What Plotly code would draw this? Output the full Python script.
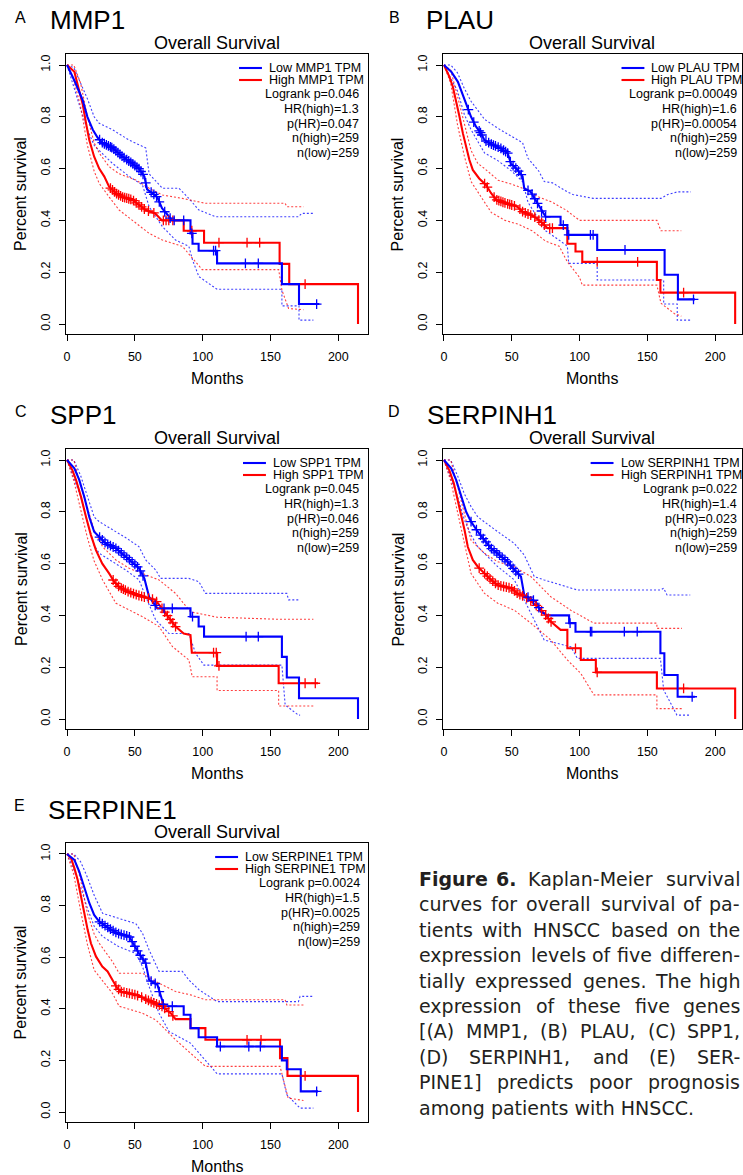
import numpy as np
import plotly.graph_objects as go

W, H = 743, 1175

# ---------------- shared axis / text values ----------------
month_ticks = [0, 50, 100, 150, 200]
surv_ticks = [0.0, 0.2, 0.4, 0.6, 0.8, 1.0]
surv_tick_labels = ["0.0", "0.2", "0.4", "0.6", "0.8", "1.0"]

genes = ["MMP1", "PLAU", "SPP1", "SERPINH1", "SERPINE1"]
panel_letters = ["A", "B", "C", "D", "E"]
logrank_p = ["0.046", "0.00049", "0.045", "0.022", "0.0024"]
hr_high = ["1.3", "1.6", "1.3", "1.4", "1.5"]
p_hr = ["0.047", "0.00054", "0.046", "0.023", "0.0025"]
n_high = [259, 259, 259, 259, 259]
n_low = [259, 259, 259, 259, 259]

# ---------------- (A) MMP1 ----------------
mmp1_low_t = [0, 5.4, 11.5, 15, 19, 22.5, 26, 33.5, 41, 48, 53, 57, 59, 63, 66.5, 70, 74, 77.6, 91, 91, 92.5, 92.5, 97, 97, 110.6, 110.6, 158.4, 158.4, 171, 171, 186]
mmp1_low_s = [1, .94, .865, .80, .75, .72, .70, .68, .646, .62, .60, .57, .52, .505, .49, .447, .42, .40, .40, .35, .35, .31, .31, .283, .283, .234, .234, .154, .154, .077, .077]
mmp1_high_t = [0, 5.4, 9, 11.5, 14, 16.4, 20, 23.7, 27.4, 31, 36, 41, 48, 53, 58, 65, 70, 86, 86, 101, 101, 156.7, 156.7, 163.8, 163.8, 214.5, 214.5]
mmp1_high_s = [1, .974, .90, .85, .775, .71, .646, .60, .57, .53, .505, .49, .48, .46, .44, .427, .40, .40, .36, .36, .314, .314, .232, .232, .154, .154, 0]
mmp1_low_censor = [24, 26, 27.5, 29, 30.5, 32, 33, 34.5, 36, 37.5, 39, 40.5, 42, 44, 45.5, 47, 48.5, 50, 51.5, 53, 54.5, 56, 58, 62, 64, 66, 68, 72, 76, 79, 86, 92, 108, 109.5, 131.5, 141, 184]
mmp1_high_censor = [32, 33.5, 35, 36.5, 38, 39.5, 41, 42.5, 44, 45.5, 47, 49, 51, 53, 55, 57, 60, 64, 71, 73, 75, 78, 92, 112, 132.7, 142, 175.5]
mmp1_low_upper_t = [0, 5, 10, 15, 20, 23.7, 33.5, 45.8, 58, 60.5, 70.3, 82.5, 89.8, 97.2, 109.4, 170.6, 173, 181.6]
mmp1_low_upper_s = [1, .99, .93, .87, .80, .775, .75, .71, .68, .58, .524, .524, .485, .44, .414, .414, .427, .427]
mmp1_low_lower_t = [0, 5, 10, 15, 20, 23.7, 33.5, 45.8, 55.6, 60.5, 70.3, 80, 89.8, 92.5, 97.2, 110.6, 158.4, 158.4, 171, 171, 181.6]
mmp1_low_lower_s = [1, .91, .83, .75, .69, .67, .62, .57, .537, .453, .376, .324, .30, .247, .183, .134, .134, .07, .07, .015, .015]
mmp1_high_upper_t = [0, 5, 10, 15, 20, 23.7, 31.1, 38.4, 50.7, 60.5, 70.3, 85, 102, 160.8, 162, 174.3]
mmp1_high_upper_s = [1, 1, .93, .80, .70, .66, .607, .58, .556, .524, .498, .485, .466, .466, .453, .453]
mmp1_high_lower_t = [0, 5, 10, 15, 20, 23.7, 31.1, 38.4, 50.7, 60.5, 70.3, 85, 99.6, 156, 158.4, 163.3, 174.3]
mmp1_high_lower_s = [1, .94, .84, .69, .59, .543, .49, .44, .39, .35, .324, .30, .21, .21, .131, .06, .055]

# ---------------- (B) PLAU ----------------
plau_low_t = [0, 5.4, 10.3, 12.7, 16.4, 20, 23.7, 27.4, 29.9, 34.8, 42, 47, 49.4, 54.3, 58, 59.2, 64, 69, 71.5, 75, 86, 86, 91, 91, 113, 113, 162.7, 162.7, 172.5, 172.5, 185]
plau_low_s = [1, .974, .935, .90, .85, .80, .762, .736, .71, .695, .678, .66, .62, .595, .57, .524, .51, .466, .44, .414, .414, .382, .382, .344, .344, .286, .286, .19, .19, .095, .095]
plau_high_t = [0, 4, 6.6, 9, 11.5, 14, 16.4, 18.8, 21.3, 26, 31, 34.8, 38.5, 44.6, 54, 58, 66.6, 71.5, 76.4, 91, 91, 97, 97, 102, 102, 157, 157, 159.6, 159.6, 214.7, 214.7]
plau_high_s = [1, .955, .916, .865, .80, .736, .685, .633, .595, .562, .537, .505, .48, .468, .453, .434, .414, .395, .37, .37, .31, .31, .28, .28, .24, .24, .17, .17, .121, .121, 0]
plau_low_censor = [18, 22, 26, 27, 28, 31, 33, 35, 36.5, 38, 40, 42, 44, 45.5, 47, 49, 51, 53, 55, 57, 62, 65, 67, 69, 72, 75, 88, 92, 108, 110, 133.5, 184]
plau_high_censor = [30, 32, 37, 39, 40.5, 42, 43.5, 45, 47, 48.5, 50, 52, 56, 58, 60, 62, 64, 67, 70, 72, 74, 78, 80, 113, 142.8, 176.7]
plau_low_upper_t = [0, 5, 10, 15, 20, 30, 40, 50, 58, 62, 70, 74, 80, 91, 95, 110, 160, 165, 172, 182]
plau_low_upper_s = [1, 1, .97, .91, .86, .79, .755, .725, .70, .64, .59, .55, .545, .51, .50, .485, .485, .50, .51, .51]
plau_low_lower_t = [0, 5, 10, 15, 20, 30, 40, 50, 58, 62, 70, 75, 86, 91, 92, 113, 113, 162, 162, 172, 172, 182.8]
plau_low_lower_s = [1, .95, .90, .81, .75, .66, .63, .59, .55, .47, .40, .36, .32, .30, .234, .234, .17, .17, .077, .077, .015, .015]
plau_high_upper_t = [0, 5, 10, 15, 20, 25, 30, 40, 50, 60, 70, 80, 90, 100, 157, 160, 175]
plau_high_upper_s = [1, .98, .88, .77, .67, .62, .60, .555, .54, .52, .49, .47, .44, .40, .40, .36, .36]
plau_high_lower_t = [0, 5, 10, 15, 20, 25, 35, 45, 55, 65, 75, 85, 91, 100, 102, 157, 160, 170, 175]
plau_high_lower_s = [1, .93, .77, .65, .55, .51, .43, .40, .385, .36, .32, .30, .24, .18, .15, .15, .08, .04, .03]

# ---------------- (C) SPP1 ----------------
spp1_low_t = [0, 5.4, 9, 12.7, 16.4, 20, 23.7, 28.6, 36, 42, 48, 53, 57, 59, 60.5, 66.6, 91, 91, 97, 97, 101, 101, 158.4, 158.4, 162, 162, 171, 171, 214.5, 214.5]
spp1_low_s = [1, .968, .923, .858, .78, .723, .704, .678, .659, .633, .607, .582, .543, .498, .472, .427, .427, .395, .395, .357, .357, .318, .318, .24, .24, .16, .16, .08, .08, 0]
spp1_high_t = [0, 4, 6.6, 10.3, 14, 17.6, 21.3, 26, 31, 34.8, 38.4, 45.8, 55.6, 65, 69, 72.7, 76.4, 80, 86, 91, 92, 110.6, 110.6, 156, 156, 185]
spp1_high_s = [1, .96, .923, .858, .78, .71, .652, .60, .562, .53, .51, .49, .472, .46, .434, .408, .382, .357, .33, .324, .256, .256, .205, .205, .138, .138]
spp1_low_censor = [24, 26, 28, 30, 32, 34, 36, 38, 40, 42, 44, 46, 48, 50, 52, 54, 56, 65, 71.5, 77.6, 92.5, 132, 141]
spp1_high_censor = [34, 36, 38, 40, 41.5, 43, 45, 47, 49, 51, 53, 55, 57, 60, 63, 66, 70, 72, 74, 76, 78, 80, 108, 110, 112, 175.5, 183]
spp1_low_upper_t = [0, 5, 10, 15, 20, 23.7, 43.3, 53.1, 58, 65.4, 69, 89.8, 97.2, 102, 162, 163.3, 171.8]
spp1_low_upper_s = [1, 1, .94, .86, .78, .762, .70, .665, .614, .575, .543, .543, .53, .485, .485, .46, .46]
spp1_low_lower_t = [0, 5, 10, 15, 20, 23.7, 43.3, 53.1, 58, 65.4, 75.2, 89.8, 94.7, 100.9, 158.4, 160.8, 170.6, 171.8]
spp1_low_lower_s = [1, .93, .86, .76, .67, .64, .575, .537, .472, .382, .33, .33, .254, .208, .208, .054, .015, .015]
spp1_high_upper_t = [0, 5, 10, 15, 20, 26.2, 36, 45.8, 55.6, 67.8, 80, 91, 110.6, 156, 181.6]
spp1_high_upper_s = [1, 1, .90, .81, .73, .665, .614, .582, .562, .537, .485, .414, .393, .385, .385]
spp1_high_lower_t = [0, 5, 10, 15, 20, 26.2, 36, 45.8, 55.6, 67.8, 77.6, 89.8, 92.3, 110.6, 110.6, 156, 156, 181.6]
spp1_high_lower_s = [1, .92, .81, .70, .61, .537, .447, .42, .395, .357, .28, .228, .163, .163, .11, .11, .05, .05]

# ---------------- (D) SERPINH1 ----------------
serpinh1_low_t = [0, 5.4, 9, 12.7, 16.4, 20, 25, 30, 34.8, 40.9, 47, 52, 56.8, 59.2, 67.8, 71.5, 76.4, 92.3, 92.3, 97, 97, 159.6, 159.6, 162.5, 162.5, 172.3, 172.3, 185]
serpinh1_low_s = [1, .968, .923, .865, .80, .762, .723, .69, .659, .633, .607, .575, .55, .479, .453, .414, .40, .40, .37, .37, .337, .337, .254, .254, .17, .17, .086, .086]
serpinh1_high_t = [0, 4, 7.3, 10.3, 12.7, 15.2, 17.6, 21.3, 25, 29.9, 34.8, 39.7, 49.4, 54.3, 61.7, 69, 74, 78.8, 86, 91, 91, 100.9, 100.9, 112, 112, 157, 157, 214.7, 214.7]
serpinh1_high_s = [1, .96, .91, .846, .794, .73, .665, .614, .588, .562, .537, .517, .505, .485, .466, .434, .408, .376, .344, .344, .273, .273, .228, .228, .18, .18, .118, .118, 0]
serpinh1_low_censor = [20, 24, 27, 29, 31, 33, 35, 37, 39, 41, 43, 45, 47, 49, 51, 53, 55, 62, 66, 70, 93, 108, 109, 133, 142.5, 183]
serpinh1_high_censor = [26, 30, 32, 34, 36, 38, 40, 42, 44, 46, 48, 50, 52, 54, 56, 58, 61, 64, 68, 72, 75, 77, 79, 97, 113, 176.7]
serpinh1_low_upper_t = [0, 5, 10, 15, 20, 25, 39.7, 51.9, 59.2, 66.6, 73.9, 98.4, 159.6, 162, 164.5, 181.6]
serpinh1_low_upper_s = [1, 1, .94, .87, .82, .78, .723, .678, .633, .55, .537, .498, .498, .505, .479, .479]
serpinh1_low_lower_t = [0, 5, 10, 15, 20, 25, 39.7, 51.9, 59.2, 66.6, 73.9, 93.5, 98.4, 159.6, 162, 171.8, 181.6]
serpinh1_low_lower_s = [1, .93, .86, .77, .71, .665, .588, .537, .46, .382, .305, .279, .234, .234, .112, .015, .015]
serpinh1_high_upper_t = [0, 5, 10, 15, 20, 29.9, 39.7, 51.9, 64.1, 78.8, 93.5, 110.6, 157, 157, 175.5]
serpinh1_high_upper_s = [1, 1, .90, .79, .69, .64, .607, .588, .55, .472, .42, .37, .37, .35, .35]
serpinh1_high_lower_t = [0, 5, 10, 15, 20, 29.9, 39.7, 51.9, 64.1, 78.8, 91, 100.9, 110.6, 157, 157, 175.5]
serpinh1_high_lower_s = [1, .92, .80, .68, .562, .485, .447, .42, .37, .305, .228, .176, .093, .093, .04, .04]

# ---------------- (E) SERPINE1 ----------------
serpine1_low_t = [0, 5.4, 9, 12.7, 16.4, 20, 23.7, 31, 37, 45.8, 49.4, 53, 58, 60.5, 66.6, 69, 71.5, 86, 86, 91, 91, 97, 97, 110.6, 110.6, 158.4, 158.4, 162, 162, 172.3, 172.3, 185]
serpine1_low_s = [1, .977, .932, .874, .81, .764, .738, .712, .693, .68, .648, .615, .577, .512, .493, .448, .41, .41, .377, .377, .325, .325, .29, .29, .254, .254, .20, .20, .166, .166, .08, .08]
serpine1_high_t = [0, 3, 5.4, 7.8, 10.3, 12.7, 15.2, 17.6, 21.3, 26, 29.9, 33.5, 37, 39.7, 50.7, 56.8, 61.7, 70, 76.4, 80, 91, 91, 102, 102, 157, 157, 162.5, 162.5, 214.5, 214.5]
serpine1_high_s = [1, .983, .945, .90, .835, .77, .706, .654, .603, .564, .545, .512, .48, .467, .454, .441, .428, .41, .383, .36, .36, .325, .325, .28, .28, .209, .209, .14, .14, 0]
serpine1_low_censor = [24, 26, 28, 30, 32, 34, 36, 38, 40, 42, 44, 46, 48, 50, 52, 54, 56, 58, 62, 65, 68, 71, 77.6, 113, 134, 142.5, 184]
serpine1_high_censor = [36, 38, 40, 42, 44, 46, 48, 50, 52, 55, 58, 60, 62, 64, 66, 68, 70, 72, 75, 78, 132.7, 143, 175.5]
serpine1_low_upper_t = [0, 5, 10, 15, 20, 26.2, 38.4, 50.7, 55.6, 60.5, 67.8, 85, 89.8, 97.2, 110.6, 170.6, 171.8, 181.6]
serpine1_low_upper_s = [1, 1, .97, .91, .84, .77, .75, .73, .693, .628, .545, .545, .512, .474, .428, .428, .448, .448]
serpine1_low_lower_t = [0, 5, 10, 15, 20, 26.2, 38.4, 50.7, 55.6, 60.5, 67.8, 75.2, 91, 97.2, 110.6, 158.4, 162, 171.8, 181.6]
serpine1_low_lower_s = [1, .94, .87, .79, .72, .68, .64, .615, .564, .486, .383, .312, .267, .228, .148, .148, .067, .015, .015]
serpine1_high_upper_t = [0, 5, 10, 15, 20, 23.7, 33.5, 38.4, 55.6, 65.4, 80, 91, 102, 160.8, 162, 174.3]
serpine1_high_upper_s = [1, 1, .90, .77, .69, .654, .583, .538, .538, .506, .467, .454, .435, .435, .415, .415]
serpine1_high_lower_t = [0, 5, 10, 15, 20, 23.7, 33.5, 38.4, 55.6, 65.4, 80, 91, 102, 157, 163, 174.3]
serpine1_high_lower_s = [1, .92, .78, .65, .55, .525, .46, .41, .383, .357, .28, .228, .177, .177, .054, .045]

# caption
caption_lines = [
    "<b>Figure</b> <b>6.</b> Kaplan-Meier survival",
    "curves for overall survival of pa-",
    "tients with HNSCC based on the",
    "expression levels of five differen-",
    "tially expressed genes. The high",
    "expression of these five genes",
    "[(A) MMP1, (B) PLAU, (C) SPP1,",
    "(D) SERPINH1, and (E) SER-",
    "PINE1] predicts poor prognosis",
    "among patients with HNSCC.",
]

series = {
    "MMP1": dict(low=(mmp1_low_t, mmp1_low_s), high=(mmp1_high_t, mmp1_high_s),
                 lc=mmp1_low_censor, hc=mmp1_high_censor,
                 lu=(mmp1_low_upper_t, mmp1_low_upper_s), ll=(mmp1_low_lower_t, mmp1_low_lower_s),
                 hu=(mmp1_high_upper_t, mmp1_high_upper_s), hl=(mmp1_high_lower_t, mmp1_high_lower_s)),
    "PLAU": dict(low=(plau_low_t, plau_low_s), high=(plau_high_t, plau_high_s),
                 lc=plau_low_censor, hc=plau_high_censor,
                 lu=(plau_low_upper_t, plau_low_upper_s), ll=(plau_low_lower_t, plau_low_lower_s),
                 hu=(plau_high_upper_t, plau_high_upper_s), hl=(plau_high_lower_t, plau_high_lower_s)),
    "SPP1": dict(low=(spp1_low_t, spp1_low_s), high=(spp1_high_t, spp1_high_s),
                 lc=spp1_low_censor, hc=spp1_high_censor,
                 lu=(spp1_low_upper_t, spp1_low_upper_s), ll=(spp1_low_lower_t, spp1_low_lower_s),
                 hu=(spp1_high_upper_t, spp1_high_upper_s), hl=(spp1_high_lower_t, spp1_high_lower_s)),
    "SERPINH1": dict(low=(serpinh1_low_t, serpinh1_low_s), high=(serpinh1_high_t, serpinh1_high_s),
                     lc=serpinh1_low_censor, hc=serpinh1_high_censor,
                     lu=(serpinh1_low_upper_t, serpinh1_low_upper_s), ll=(serpinh1_low_lower_t, serpinh1_low_lower_s),
                     hu=(serpinh1_high_upper_t, serpinh1_high_upper_s), hl=(serpinh1_high_lower_t, serpinh1_high_lower_s)),
    "SERPINE1": dict(low=(serpine1_low_t, serpine1_low_s), high=(serpine1_high_t, serpine1_high_s),
                     lc=serpine1_low_censor, hc=serpine1_high_censor,
                     lu=(serpine1_low_upper_t, serpine1_low_upper_s), ll=(serpine1_low_lower_t, serpine1_low_lower_s),
                     hu=(serpine1_high_upper_t, serpine1_high_upper_s), hl=(serpine1_high_lower_t, serpine1_high_lower_s)),
}

# ---------------- layout geometry (pixels) ----------------
panel_geom = [
    dict(box=(63, 366, 54, 334), x0=64.3, letter_xy=(18, 17), gene_x=45, leg_left=265, stats_right=359.5),
    dict(box=(442, 741.5, 54, 334), x0=442.7, letter_xy=(393, 17), gene_x=423, leg_left=649, stats_right=738.5),
    dict(box=(63, 366, 449, 729), x0=64.3, letter_xy=(18, 412), gene_x=45, leg_left=269, stats_right=359.5),
    dict(box=(442, 741.5, 449, 729), x0=442.7, letter_xy=(393, 412), gene_x=424, leg_left=618, stats_right=738.5),
    dict(box=(63, 366, 843, 1122), x0=64.3, letter_xy=(17, 805), gene_x=43, leg_left=241, stats_right=360),
]
PX_PER_MONTH = 1.362
Y_RANGE = [-0.0386, 1.0425]

FONT = "Liberation Sans, Arial, Helvetica, sans-serif"
BLUE = "#0000FF"
RED = "#FF0000"


def fx(p):
    return p / W


def fy(p):
    return 1 - p / H


fig = go.Figure()
annotations = []
shapes = []

for i, gene in enumerate(genes):
    g = panel_geom[i]
    d = series[gene]
    L, R, T, B = g["box"]
    sfx = "" if i == 0 else str(i + 1)
    xref, yref = "x" + sfx, "y" + sfx

    def add_line(t, s, color, width, dash=None, opacity=1.0):
        fig.add_trace(go.Scatter(x=t, y=s, mode="lines", xaxis=xref, yaxis=yref,
                                 line=dict(color=color, width=width, dash=dash),
                                 opacity=opacity, hoverinfo="skip", showlegend=False))

    # confidence bands (dotted)
    for key, col in (("lu", BLUE), ("ll", BLUE), ("hu", RED), ("hl", RED)):
        add_line(d[key][0], d[key][1], col, 1.1, dash="2px,2px", opacity=0.75)
    # main curves
    add_line(d["high"][0], d["high"][1], RED, 2.1)
    add_line(d["low"][0], d["low"][1], BLUE, 2.1)
    # censor marks, located on the drawn curve
    for ck, curve, col in (("hc", "high", RED), ("lc", "low", BLUE)):
        ct = np.array(d[ck], dtype=float)
        cs = np.interp(ct, np.array(d[curve][0], dtype=float), np.array(d[curve][1], dtype=float))
        fig.add_trace(go.Scatter(x=ct, y=cs, mode="markers", xaxis=xref, yaxis=yref,
                                 marker=dict(symbol="cross-thin-open", size=7, color=col,
                                             line=dict(color=col, width=1.3)),
                                 hoverinfo="skip", showlegend=False))

    xr = [(L - g["x0"]) / PX_PER_MONTH, (R - g["x0"]) / PX_PER_MONTH]
    common = dict(showline=True, linecolor="black", linewidth=1.3, mirror=True,
                  ticks="outside", ticklen=6, tickwidth=1.1, tickcolor="black",
                  showgrid=False, zeroline=False,
                  tickfont=dict(family=FONT, size=12.5, color="black"))
    fig.update_layout(**{
        "xaxis" + sfx: dict(domain=[fx(L), fx(R)], range=xr, tickvals=month_ticks,
                            anchor=yref, ticklabelstandoff=5, **common),
        "yaxis" + sfx: dict(domain=[fy(B), fy(T)], range=Y_RANGE, tickvals=surv_ticks,
                            ticktext=surv_tick_labels, tickangle=-90, anchor=xref,
                            ticklabelstandoff=4, **common),
    })

    cx = (L + R) / 2
    cy = (T + B) / 2
    # panel letter, gene name, title
    annotations.append(dict(text=panel_letters[i], x=fx(g["letter_xy"][0]), y=fy(g["letter_xy"][1]),
                            xanchor="center", yanchor="middle",
                            font=dict(family=FONT, size=16, color="black")))
    annotations.append(dict(text=gene, x=fx(g["gene_x"]), y=fy(T - 33.5), xanchor="left", yanchor="middle",
                            font=dict(family=FONT, size=26, color="black")))
    annotations.append(dict(text="Overall Survival", x=fx(cx), y=fy(T - 11), xanchor="center", yanchor="middle",
                            font=dict(family=FONT, size=18, color="black")))
    # axis titles
    annotations.append(dict(text="Months", x=fx(cx), y=fy(B + 44.5), xanchor="center", yanchor="middle",
                            font=dict(family=FONT, size=16, color="black")))
    annotations.append(dict(text="Percent survival", x=fx(L - 45), y=fy(cy), xanchor="center", yanchor="middle",
                            textangle=-90, font=dict(family=FONT, size=16, color="black")))
    # legend
    leg_font = dict(family=FONT, size=12.5, color="black")
    annotations.append(dict(text="Low %s TPM" % gene, x=fx(g["leg_left"]), y=fy(T + 14),
                            xanchor="left", yanchor="middle", font=leg_font))
    annotations.append(dict(text="High %s TPM" % gene, x=fx(g["leg_left"]), y=fy(T + 26),
                            xanchor="left", yanchor="middle", font=leg_font))
    stats = ["Logrank p=%s" % logrank_p[i], "HR(high)=%s" % hr_high[i], "p(HR)=%s" % p_hr[i],
             "n(high)=%d" % n_high[i], "n(low)=%d" % n_low[i]]
    for k, st in enumerate(stats):
        annotations.append(dict(text=st, x=fx(g["stats_right"]), y=fy(T + 40.3 + 14.7 * k),
                                xanchor="right", yanchor="middle", font=leg_font))
    for yy, col in ((T + 14, BLUE), (T + 26, RED)):
        shapes.append(dict(type="line", xref="paper", yref="paper",
                           x0=fx(g["leg_left"] - 28), x1=fx(g["leg_left"] - 5), y0=fy(yy), y1=fy(yy),
                           line=dict(color=col, width=2.1)))

for a in annotations:
    a.update(xref="paper", yref="paper", showarrow=False)

# ---------------- caption (justified) ----------------
CW = {' ': .318, 'a': .613, 'b': .635, 'c': .550, 'd': .635, 'e': .615, 'f': .352, 'g': .635, 'h': .634,
      'i': .278, 'j': .278, 'k': .579, 'l': .278, 'm': .974, 'n': .634, 'o': .612, 'p': .635, 'q': .635,
      'r': .411, 's': .521, 't': .392, 'u': .634, 'v': .592, 'w': .818, 'x': .592, 'y': .592, 'z': .525,
      'A': .684, 'B': .686, 'C': .698, 'D': .770, 'E': .632, 'F': .575, 'G': .775, 'H': .752, 'I': .295,
      'K': .656, 'L': .557, 'M': .863, 'N': .748, 'O': .787, 'P': .603, 'R': .695, 'S': .635, 'T': .611,
      'U': .732, '.': .318, ',': .318, '-': .361, '(': .390, ')': .390, '[': .390, ']': .390}
CAP_SIZE = 19
CAP_FONT = "DejaVu Sans, Verdana, sans-serif"
CAP_COLOR = "#231f20"
CAP_LEFT, CAP_RIGHT = 415.7, 742.0
CAP_TOP, CAP_STEP = 879.0, 25.4
WIDTH_CORR = 1.05


def word_w(w):
    bold = w.startswith("<b>")
    plain = w.replace("<b>", "").replace("</b>", "")
    em = sum(CW.get(c, 0.636) for c in plain)
    return em * CAP_SIZE * WIDTH_CORR * (1.12 if bold else 1.0)


for li, line in enumerate(caption_lines):
    yy = fy(CAP_TOP + CAP_STEP * li)
    cfont = dict(family=CAP_FONT, size=CAP_SIZE, color=CAP_COLOR)
    if li == len(caption_lines) - 1:
        annotations.append(dict(text=line, x=fx(CAP_LEFT), y=yy, xref="paper", yref="paper",
                                xanchor="left", yanchor="middle", showarrow=False, font=cfont))
        continue
    words = line.split(" ")
    widths = [word_w(w) for w in words]
    gap = (CAP_RIGHT - CAP_LEFT - sum(widths)) / (len(words) - 1)
    xpos = CAP_LEFT
    n = len(words)
    for wi, w in enumerate(words):
        if wi == 0:
            xa, xp = "left", CAP_LEFT
        elif wi == n - 1:
            xa, xp = "right", CAP_RIGHT
        else:
            xa, xp = "center", xpos + widths[wi] / 2
        annotations.append(dict(text=w, x=fx(xp), y=yy, xref="paper", yref="paper",
                                xanchor=xa, yanchor="middle", showarrow=False, font=cfont))
        xpos += widths[wi] + gap

fig.update_layout(width=W, height=H, margin=dict(l=0, r=0, t=0, b=0),
                  paper_bgcolor="white", plot_bgcolor="white", showlegend=False,
                  annotations=annotations, shapes=shapes)

fig.write_html("out.html")
